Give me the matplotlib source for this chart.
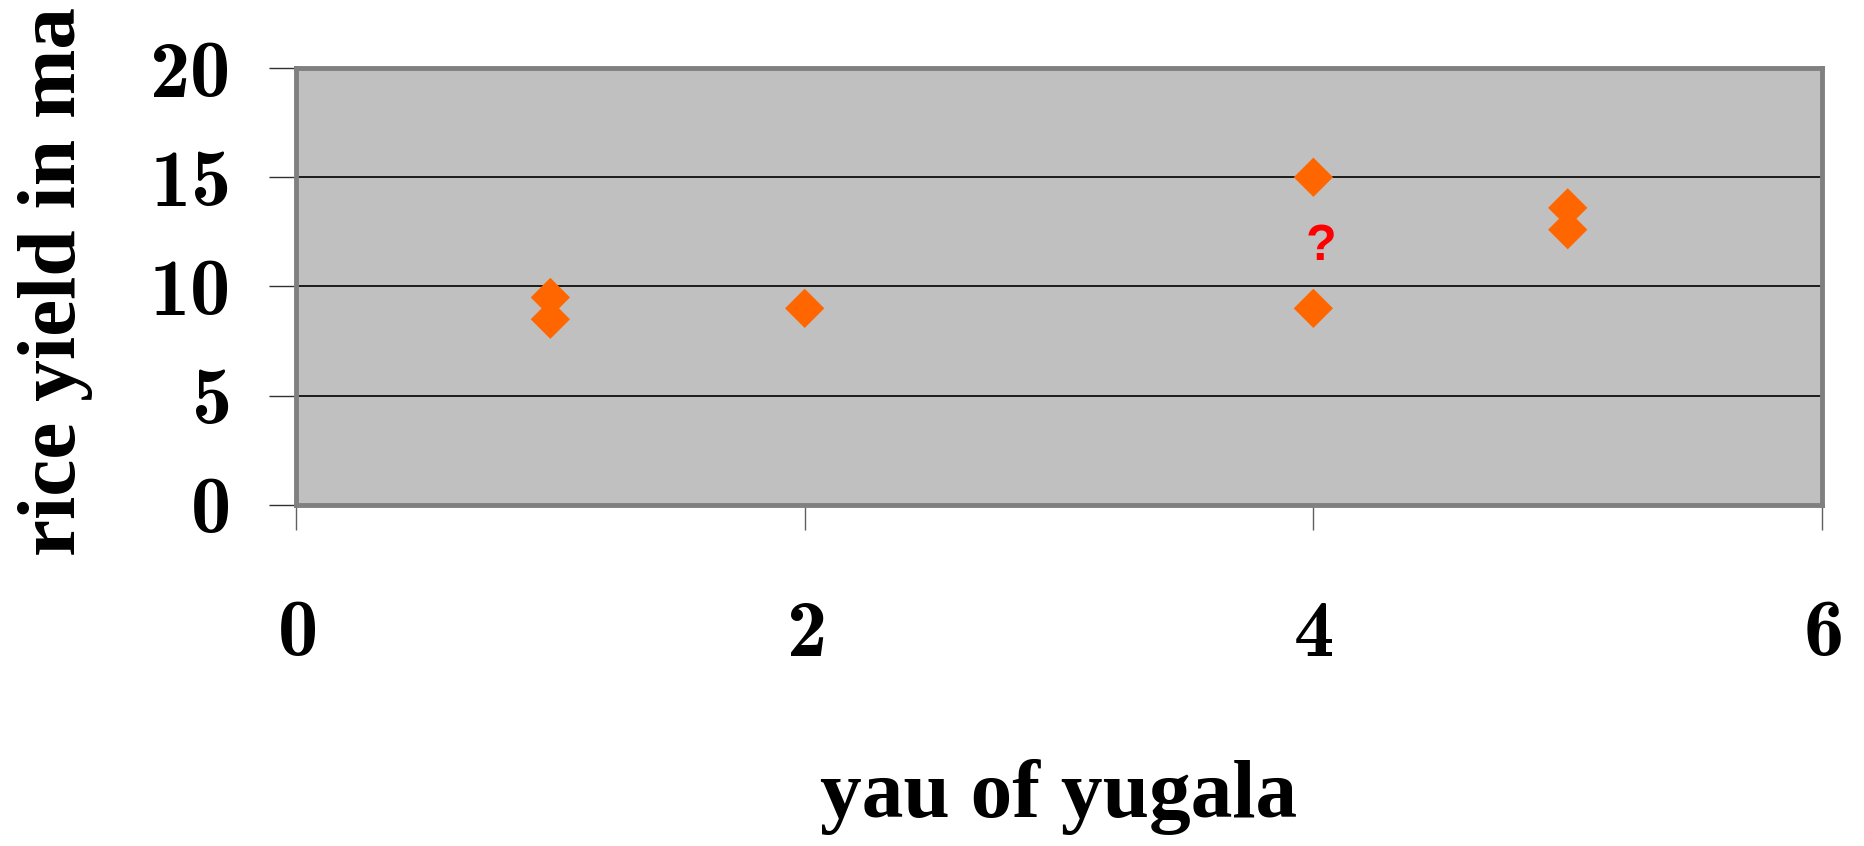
import matplotlib
matplotlib.use("Agg")
from matplotlib import pyplot as plt

# data
yau = [1, 1, 2, 4, 4, 5, 5]
rice_yield = [9.5, 8.5, 9.0, 15.0, 9.0, 13.6, 12.6]
x_ticks = [0, 2, 4, 6]
y_ticks = [0, 5, 10, 15, 20]
note_x, note_y = 4.03, 11.8

plt.rcParams['axes.formatter.use_mathtext'] = True

fig = plt.figure(figsize=(18.64, 8.46), dpi=100)
ax = fig.add_axes([0.1588, 0.4031, 0.8187, 0.5165])

ax.set_facecolor('#C0C0C0')
ax.scatter(yau, rice_yield, marker='D', s=20 ** 2, color='#FF6600',
           edgecolors='none', zorder=3, clip_on=False)
ax.text(note_x, note_y, '?', color='red', fontsize=36, fontweight='bold',
        family='Liberation Sans', ha='center', va='center', zorder=4)

ax.set_xlim(0, 6)
ax.set_ylim(0, 20)
ax.set_xticks(x_ticks)
ax.set_yticks(y_ticks)

for gy in y_ticks[1:-1]:
    ax.axhline(gy, color='black', lw=1.2, zorder=1)

for side in ['left', 'right', 'top', 'bottom']:
    ax.spines[side].set_color('#808080')
    ax.spines[side].set_linewidth(3.5)

ax.tick_params(axis='y', direction='out', length=19.5, width=1,
               color='#303030', pad=29)
ax.tick_params(axis='x', direction='out', length=18, width=1,
               color='#606060', pad=50)

for lab in ax.get_xticklabels() + ax.get_yticklabels():
    lab.set_family('cmb10')
    lab.set_fontsize(58)

fig.text(0.568, 0.058, 'yau of yugala', family='Liberation Serif',
         fontweight='bold', fontsize=60, ha='center', va='center')
fig.text(0.030, 0.667, 'rice yield in ma', family='Liberation Serif',
         fontweight='bold', fontsize=60, rotation=90,
         ha='center', va='center')

fig.savefig('out.png', dpi=100)
